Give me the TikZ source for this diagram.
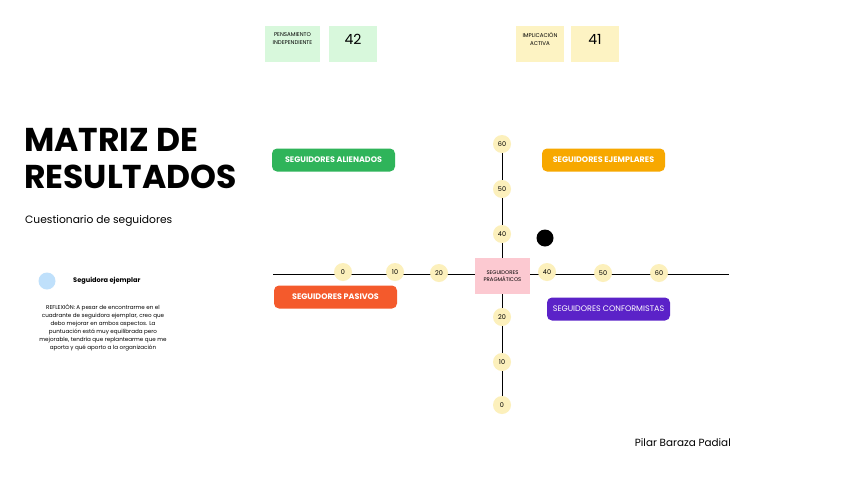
\documentclass[tikz,border=0pt]{standalone}
\usepackage{fontspec}
\setmainfont{Poppins}
\begin{document}
\begin{tikzpicture}[x=1pt,y=-1pt,
  tick/.style={circle,fill=tickyellow,minimum size=18pt,inner sep=0pt,font=\fontsize{6.5}{7}\selectfont},
  btn/.style={rounded corners=5pt,minimum width=123pt,minimum height=23pt,inner sep=0pt,text=white,font=\fontsize{8}{9}\selectfont\bfseries},
  topbox/.style={minimum height=36pt,inner sep=0pt},
  toplabel/.style={inner sep=0pt,align=center,font=\fontsize{5.5}{8}\selectfont},
  topvalue/.style={inner sep=0pt,font=\fontsize{14}{15}\selectfont},
  axis/.style={line width=1pt,black}]
\definecolor{tickyellow}{HTML}{FCF0BC}
\definecolor{lgreen}{HTML}{D8F8DC}
\definecolor{lyellow}{HTML}{FDF3C3}
\definecolor{lpink}{HTML}{FCC9D1}
\definecolor{bgreen}{HTML}{2FB45A}
\definecolor{borange}{HTML}{F7A800}
\definecolor{bred}{HTML}{F45A2C}
\definecolor{bpurple}{HTML}{5B22C8}
\definecolor{lblue}{HTML}{BFE0FB}
\useasboundingbox (0,0) rectangle (848,477);
\fill[white] (0,0) rectangle (848,477);
% top boxes
\node[topbox,fill=lgreen,minimum width=55pt] (pi) at (292.5,44) {};
\node[topbox,fill=lgreen,minimum width=48pt] (pv) at (353,44) {};
\node[topbox,fill=lyellow,minimum width=48pt] (ia) at (540,44) {};
\node[topbox,fill=lyellow,minimum width=48pt] (iv) at (595,44) {};
\node[toplabel] (pit) at (292.5,39) {PENSAMIENTO\\INDEPENDIENTE};
\node[topvalue] (pvt) at (353,39) {42};
\node[toplabel] (iat) at (540,39) {IMPLICACIÓN\\ACTIVA};
\node[topvalue] (ivt) at (595,39) {41};
% title
\node[anchor=north west,inner sep=0pt,align=left,font=\fontsize{33}{37}\selectfont\bfseries] (title) at (24,128) {MATRIZ DE\\RESULTADOS};
\node[anchor=west,inner sep=0pt,font=\fontsize{10.7}{13}\selectfont] (sub) at (25,221) {Cuestionario de seguidores};
\node[circle,fill=lblue,minimum size=17pt,inner sep=0pt] (dotb) at (47,281) {};
\node[anchor=west,inner sep=0pt,font=\fontsize{6.6}{8}\selectfont\bfseries] (leg) at (73,281) {Seguidora ejemplar};
\node[anchor=north,inner sep=0pt,align=center,font=\fontsize{5.6}{8}\selectfont] (refl) at (103,304) {REFLEXIÓN: A pesar de encontrarme en el\\cuadrante de seguidora ejemplar, creo que\\debo mejorar en ambos aspectos. La\\puntuación está muy equilibrada pero\\mejorable, tendría que replantearme que me\\aporta y qué aporto a la organización};
\node[anchor=east,inner sep=0pt,font=\fontsize{10.4}{13}\selectfont] (name) at (731,443) {Pilar Baraza Padial};
% axes
\coordinate (hl) at (273,274);
\coordinate (hr) at (729,274);
\coordinate (vt) at (502,144);
\coordinate (vb) at (502,405);
\draw[axis] (hl) -- (hr);
\draw[axis] (vt) -- (vb);
% center box
\node[fill=lpink,minimum width=55pt,minimum height=36pt,inner sep=0pt,align=center,font=\fontsize{5.3}{7}\selectfont] (prag) at (502.5,276) {SEGUIDORES\\PRAGMÁTICOS};
% ticks
\node[tick] (h0) at (343,272) {0};
\node[tick] (h10) at (395,272) {10};
\node[tick] (h20) at (439,273) {20};
\node[tick] (h40) at (547,272) {40};
\node[tick] (h50) at (603,273) {50};
\node[tick] (h60) at (659,273) {60};
\node[tick] (v60) at (502,144) {60};
\node[tick] (v50) at (502,189) {50};
\node[tick] (v40) at (502,234) {40};
\node[tick] (v20) at (502,317) {20};
\node[tick] (v10) at (502,362) {10};
\node[tick] (v0) at (502,405) {0};
% point
\node[circle,fill=black,minimum size=17pt,inner sep=0pt] (pt) at (545,238) {};
% quadrant buttons
\node[btn,fill=bgreen] (ali) at (333.5,160) {SEGUIDORES ALIENADOS};
\node[btn,fill=borange] (eje) at (603.5,160) {SEGUIDORES EJEMPLARES};
\node[btn,fill=bred] (pas) at (335.5,297) {SEGUIDORES PASIVOS};
\node[btn,fill=bpurple,font=\fontsize{8}{9}\selectfont] (con) at (608.5,309) {SEGUIDORES CONFORMISTAS};
\end{tikzpicture}
\end{document}
